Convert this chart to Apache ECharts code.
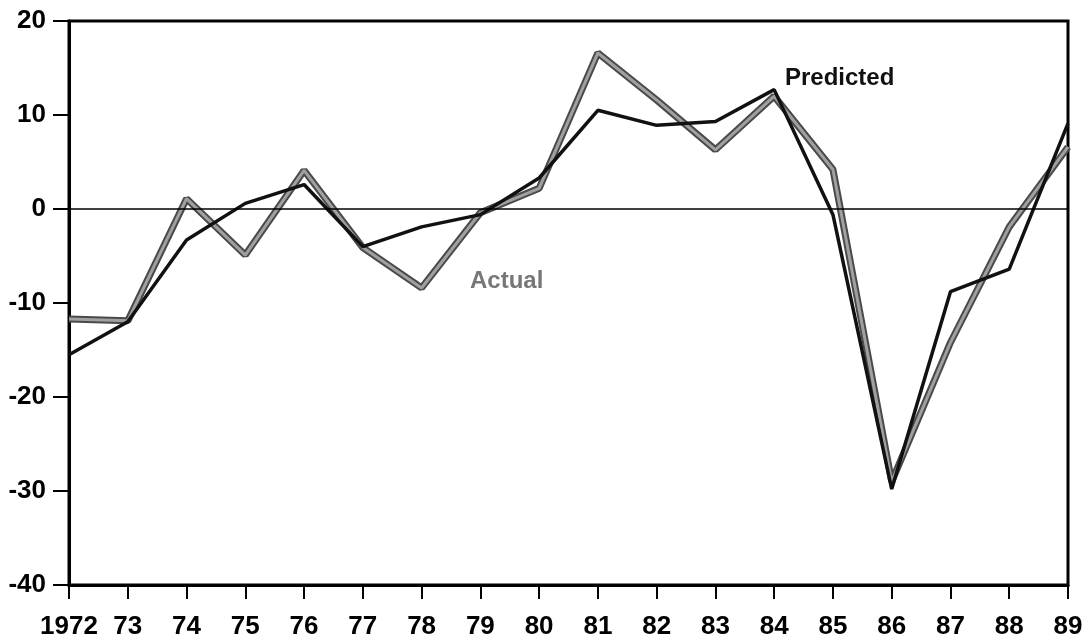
<!DOCTYPE html>
<html><head><meta charset="utf-8">
<script src="https://cdn.jsdelivr.net/npm/echarts@6/dist/echarts.min.js"></script>
<style>html,body{margin:0;padding:0;background:#fff}#c{width:1086px;height:641px}</style>
</head><body><div id="c"></div>
<script>
const years = ['1972','73','74','75','76','77','78','79','80','81','82','83','84','85','86','87','88','89'];
const actual = [-11.7,-11.9,1.1,-4.9,4.1,-4.1,-8.4,-0.4,2.2,16.6,11.6,6.3,12.0,4.2,-29.0,-14.2,-1.9,6.6];
const predicted = [-15.5,-12.0,-3.3,0.6,2.6,-4.0,-1.9,-0.6,3.3,10.5,8.9,9.3,12.7,-0.6,-29.8,-8.8,-6.4,9.1];
const yTicks = {min:-40, max:20, interval:10};

const chart = echarts.init(document.getElementById('c'));
const font = 'Liberation Sans, Arial, Helvetica, sans-serif';
chart.setOption({
  animation:false,
  backgroundColor:'#fff',
  grid:{left:69,right:18,top:21,bottom:56,show:true,borderColor:'#000',borderWidth:3,backgroundColor:'transparent'},
  xAxis:{type:'category',data:years,boundaryGap:false,
    axisLine:{onZero:false,lineStyle:{color:'#000',width:3}},
    axisTick:{show:true,length:14,alignWithLabel:true,lineStyle:{color:'#000',width:2}},
    axisLabel:{color:'#000',fontFamily:font,fontWeight:'bold',fontSize:26,margin:29,interval:0},
    splitLine:{show:false}},
  yAxis:{type:'value',min:yTicks.min,max:yTicks.max,interval:yTicks.interval,
    axisLine:{show:true,lineStyle:{color:'#000',width:3}},
    axisTick:{show:true,length:16,lineStyle:{color:'#000',width:2}},
    axisLabel:{color:'#000',fontFamily:font,fontWeight:'bold',fontSize:26,margin:23},
    splitLine:{show:false}},
  series:[
    {type:'line',data:actual,symbol:'none',z:2,lineStyle:{color:'#4a4a4a',width:7},
     markLine:{silent:true,symbol:'none',label:{show:false},lineStyle:{color:'#000',width:1.5,type:'solid'},data:[{yAxis:0}]}},
    {type:'line',data:actual,symbol:'none',z:3,lineStyle:{color:'#a0a0a0',width:3}},
    {type:'line',data:predicted,symbol:'none',z:4,lineStyle:{color:'#111',width:3.5}}
  ],
  graphic:[
    {type:'text',left:785,top:66,style:{text:'Predicted',fill:'#111',font:'bold 24px '+font}},
    {type:'text',left:470,top:269,style:{text:'Actual',fill:'#777',font:'bold 24px '+font}}
  ]
});
</script></body></html>
